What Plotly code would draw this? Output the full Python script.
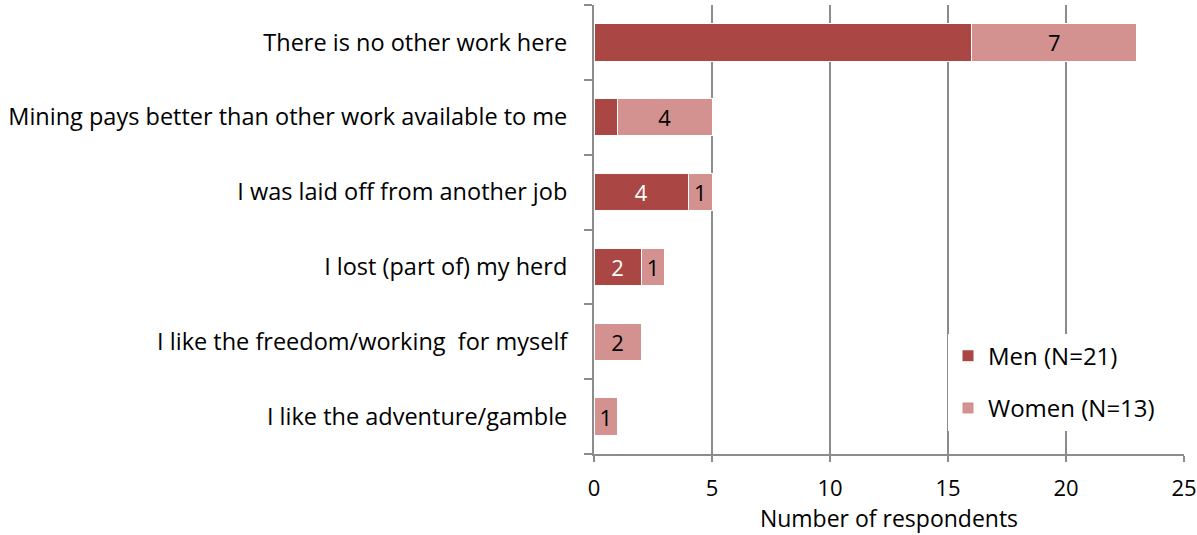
import plotly.graph_objects as go

# Reasons for mining, top to bottom as drawn
reasons = [
    "There is no other work here",
    "Mining pays better than other work available to me",
    "I was laid off from another job",
    "I lost (part of) my herd",
    "I like the freedom/working  for myself",
    "I like the adventure/gamble",
]
men = [16, 1, 4, 2, 0, 0]
women = [7, 4, 1, 1, 2, 1]
# labels as they appear on the bars (some are not shown in the original)
men_text = ["", "", "4", "2", "", ""]
women_text = ["7", "4", "1", "1", "2", "1"]

MEN_COLOR = "#AA4744"
WOMEN_COLOR = "#D39290"
GRID = "#8C8C8C"
FONT = "Open Sans"
SIZE = 24

fig = go.Figure()

fig.add_trace(go.Bar(
    y=reasons,
    x=men,
    orientation="h",
    name="Men (N=21)",
    legendgroup="men",
    marker=dict(color=MEN_COLOR, line=dict(color="white", width=1)),
    text=men_text,
    textposition="inside",
    insidetextanchor="middle",
    textfont=dict(color="white", size=22, family=FONT),
))

fig.add_trace(go.Bar(
    y=reasons,
    x=women,
    orientation="h",
    name="Women (N=13)",
    legendgroup="women",
    marker=dict(color=WOMEN_COLOR, line=dict(color="white", width=1)),
    text=women_text,
    textposition="inside",
    insidetextanchor="middle",
    textfont=dict(color="black", size=22, family=FONT),
))

fig.update_layout(
    barmode="stack",
    bargap=0.5,
    width=1197,
    height=535,
    margin=dict(l=594, r=13, t=5, b=81),
    plot_bgcolor="white",
    paper_bgcolor="white",
    font=dict(family=FONT, size=SIZE, color="black"),
    uniformtext=dict(minsize=8, mode="show"),
    legend=dict(
        x=0.6, y=0.268, xanchor="left", yanchor="top",
        bgcolor="white",
        font=dict(size=SIZE, family=FONT),
        traceorder="grouped",
        tracegroupgap=18,
    ),
)

fig.update_xaxes(
    range=[0, 25],
    dtick=5,
    automargin=False,
    showgrid=True,
    gridcolor=GRID,
    gridwidth=2,
    showline=True,
    linecolor=GRID,
    linewidth=2,
    ticks="outside",
    ticklen=6,
    tickcolor=GRID,
    tickwidth=2,
    ticklabelstandoff=8,
    zeroline=False,
    title=dict(text="Number of respondents", standoff=4, font=dict(size=23)),
    tickfont=dict(size=22),
)

fig.update_yaxes(
    categoryorder="array",
    categoryarray=list(reversed(reasons)),
    automargin=False,
    showline=True,
    linecolor=GRID,
    linewidth=2,
    ticks="outside",
    tickson="boundaries",
    ticklen=8,
    tickcolor=GRID,
    tickwidth=2,
    showgrid=False,
    ticklabelstandoff=20,
    tickfont=dict(size=23.5),
)

# drop the default page margin so the figure sits at the window's corner
fig.write_html(
    "out.html",
    config={"displayModeBar": False},
    post_script="document.body.style.margin = '0px';",
)
